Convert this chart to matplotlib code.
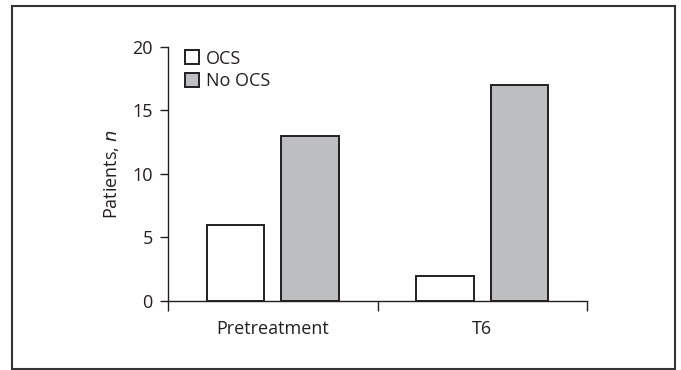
import matplotlib.pyplot as plt
import numpy as np
from matplotlib.patches import Rectangle

plt.rcParams['font.family'] = ['Open Sans', 'DejaVu Sans']

# Data
categories = ['Pretreatment', 'T6']
ocs = [6, 2]
no_ocs = [13, 17]
series_labels = ['OCS', 'No OCS']
yticks = [0, 5, 10, 15, 20]

dark = '#231f20'
grey = '#bcbec0'
fs = 13

fig = plt.figure(figsize=(6.81, 3.70), dpi=100)
ax = fig.add_axes([0.2467, 0.1865, 0.6153, 0.6865])

x = np.arange(len(categories))
w = 0.274
off = 0.177
ax.bar(x - off, ocs, w, color='white', edgecolor=dark, linewidth=1.4, label=series_labels[0])
ax.bar(x + off, no_ocs, w, color=grey, edgecolor=dark, linewidth=1.4, label=series_labels[1])

ax.set_xlim(-0.5, 1.5)
ax.set_ylim(0, 20)
ax.set_yticks(yticks)
ax.set_xticks(x)
ax.set_xticklabels(categories)
ax.set_xticks([-0.5, 0.5, 1.5], minor=True)
ax.tick_params(axis='x', which='major', length=0, pad=14, labelsize=fs, colors=dark)
ax.tick_params(axis='x', which='minor', length=7, width=1, direction='out', color=dark)
ax.tick_params(axis='y', length=6, width=1, direction='out', labelsize=fs, colors=dark, pad=5)

for s in ['top', 'right']:
    ax.spines[s].set_visible(False)
for s in ['left', 'bottom']:
    ax.spines[s].set_linewidth(1)
    ax.spines[s].set_color(dark)

ax.set_ylabel('Patients, $\\mathit{n}$', fontsize=fs, color=dark, labelpad=8)

leg = ax.legend(loc='upper left', bbox_to_anchor=(0.04, 0.99), frameon=False,
                fontsize=fs, handlelength=0.78, handleheight=0.78,
                handletextpad=0.4, labelspacing=0.27, borderaxespad=0, borderpad=0)
for t in leg.get_texts():
    t.set_color(dark)

# outer frame
fig.patches.append(Rectangle((12 / 681, 1 / 370), 663 / 681, 363 / 370,
                             transform=fig.transFigure, fill=False,
                             edgecolor='#333333', linewidth=1.5))

fig.savefig('out.png', dpi=100)
